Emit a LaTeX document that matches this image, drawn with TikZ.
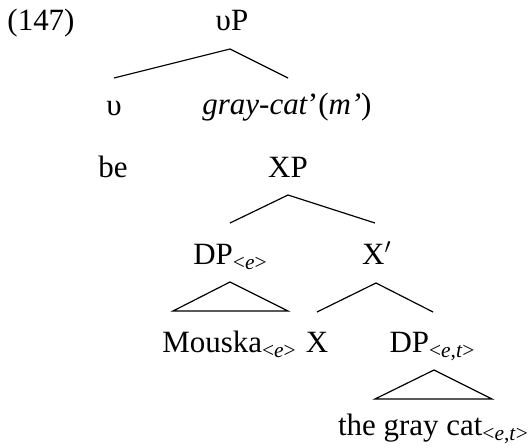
\documentclass[tikz,border=0pt]{standalone}
\usepackage{fontspec}
\setmainfont{Liberation Serif}
\usepackage{tikz}
\usetikzlibrary{positioning}
\newcommand{\typ}[1]{\raisebox{-0.17em}{\fontsize{9}{10}\selectfont <#1>}}
\tikzset{
  lbl/.style={anchor=base, inner sep=0pt, font=\fontsize{13}{15}\selectfont},
  branch/.style={line width=0.5pt, line join=miter},
}

\begin{document}
\begin{tikzpicture}[x=0.42pt, y=-0.42pt]
\useasboundingbox (0,0) rectangle (529,447);

% ── Example number ──
\node[lbl, anchor=base west] (exnum) at (7,30) {(147)};

% ── Row 1: vP ──
\node[lbl] (vP) at (232,30) {υP};
\node[lbl] (v) at (114,115) {υ};
\node[lbl] (pred) at (287,114) {\textit{gray-cat}'(\textit{m'})};

% ── Row 2: be | XP ──
\node[lbl] (be) at (113,177) {be};
\node[lbl] (XP) at (288,177) {XP};

% ── Row 3: DP | X' ──
\node[lbl] (DPe) at (230,264) {DP\typ{\textit{e}}};
\node[lbl] (Xbar) at (377,264) {X$'$};

% ── Row 4: Mouska | X | DP ──
\node[lbl] (mouska) at (229,352) {Mouska\typ{\textit{e}}};
\node[lbl] (X) at (317,352) {X};
\node[lbl] (DPet) at (432,352) {DP\typ{\textit{e},\textit{t}}};

% ── Row 5 ──
\node[lbl] (graycat) at (433,435) {the gray cat\typ{\textit{e},\textit{t}}};

% ── Branch points ──
\coordinate (vPtop) at (230,49);
\coordinate (vPl) at (114,78);
\coordinate (vPr) at (288,78);
\coordinate (XPtop) at (288,195);
\coordinate (XPl) at (230,223);
\coordinate (XPr) at (375,223);
\coordinate (Xbartop) at (376,283);
\coordinate (Xbarl) at (317,312);
\coordinate (Xbarr) at (433,312);
\coordinate (DPetop) at (230,282);
\coordinate (DPel) at (173,311);
\coordinate (DPer) at (288,311);
\coordinate (DPettop) at (434,370);
\coordinate (DPetl) at (375,399);
\coordinate (DPetr) at (492,399);

% ── Branches ──
\draw[branch] (vPl) -- (vPtop) -- (vPr);
\draw[branch] (XPl) -- (XPtop) -- (XPr);
\draw[branch] (Xbarl) -- (Xbartop) -- (Xbarr);

% ── Triangles ──
\draw[branch] (DPetop) -- (DPel) -- (DPer) -- cycle;
\draw[branch] (DPettop) -- (DPetl) -- (DPetr) -- cycle;

\end{tikzpicture}
\end{document}
